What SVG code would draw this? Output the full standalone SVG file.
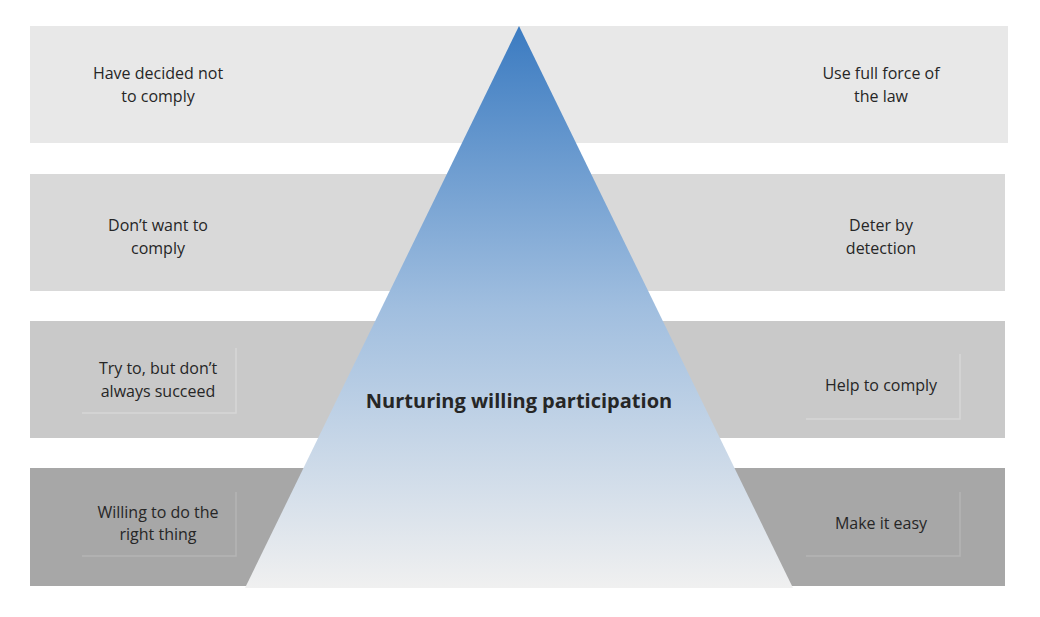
<svg xmlns="http://www.w3.org/2000/svg" width="1040" height="617" viewBox="0 0 1040 617">
<defs>
<linearGradient id="g" x1="0" y1="0" x2="0" y2="1">
<stop offset="0" stop-color="#3b7bc1"/>
<stop offset="0.5" stop-color="#a0bedf"/>
<stop offset="1" stop-color="#f0f0f0"/>
</linearGradient>
</defs>
<style>
text{font-family:"Open Sans","Liberation Sans",sans-serif;font-size:16px;fill:#262626;text-anchor:middle}
.e{fill:none;stroke-width:1.5}
</style>
<rect width="1040" height="617" fill="#fff"/>
<g id="band1"><rect x="30" y="26" width="978" height="117" fill="#e8e8e8"/></g>
<g id="band2"><rect x="30" y="174" width="975" height="117" fill="#d9d9d9"/></g>
<g id="band3"><rect x="30" y="321" width="975" height="117" fill="#c9c9c9"/>
<path class="e" stroke="#d6d6d6" d="M236 348V413H82M960 354V419H806"/></g>
<g id="band4"><rect x="30" y="468" width="975" height="118" fill="#a7a7a7"/>
<path class="e" stroke="#b5b5b5" d="M236 492V556H82M960 492V556H806"/></g>
<g id="pyramid"><polygon points="519,26 793,588 245,588" fill="url(#g)"/>
<text x="519" y="408" style="font-weight:bold;font-size:20px">Nurturing willing participation</text></g>
<g id="l1"><text x="158" y="79">Have decided not</text><text x="158" y="102">to comply</text></g>
<g id="r1"><text x="881" y="79">Use full force of</text><text x="881" y="102">the law</text></g>
<g id="l2"><text x="158" y="231">Don’t want to</text><text x="158" y="254">comply</text></g>
<g id="r2"><text x="881" y="231">Deter by</text><text x="881" y="254">detection</text></g>
<g id="l3"><text x="158" y="374">Try to, but don’t</text><text x="158" y="397">always succeed</text></g>
<g id="r3"><text x="881" y="391">Help to comply</text></g>
<g id="l4"><text x="158" y="518">Willing to do the</text><text x="158" y="540">right thing</text></g>
<g id="r4"><text x="881" y="529">Make it easy</text></g>
<g id="connectors"/>
</svg>
